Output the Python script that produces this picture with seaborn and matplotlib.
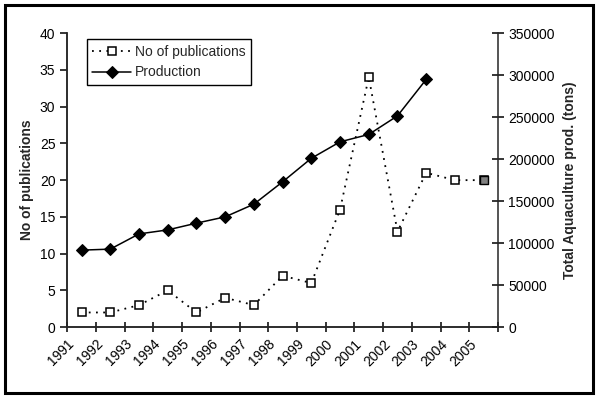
import numpy as np
import pandas as pd
import matplotlib.pyplot as plt
import seaborn as sns
from matplotlib.patches import Rectangle

years = [str(y) for y in range(1991, 2006)]
publications = [2, 2, 3, 5, 2, 4, 3, 7, 6, 16, 34, 13, 21, 20, 20]
production = [91700, 92900, 111000, 115800, 123800, 131300, 146400,
              173000, 201000, 220600, 229400, 251500, 294900]

sns.set_style('ticks')
plt.rcParams['font.family'] = ['Liberation Sans', 'DejaVu Sans']

pos = np.arange(len(years)) + 0.5
pub_df = pd.DataFrame({'x': pos, 'pubs': publications})
prod_df = pd.DataFrame({'x': pos[:len(production)], 'prod': production})

fig = plt.figure(figsize=(6, 3.99), dpi=100)
ax = fig.add_axes([0.112, 0.18, 0.718, 0.737])
ax2 = ax.twinx()

sns.lineplot(data=pub_df, x='x', y='pubs', ax=ax, color='black',
             linestyle=(0, (1, 3)), linewidth=1.3, marker='s', markersize=6,
             markerfacecolor='white', markeredgecolor='black', markeredgewidth=1.1,
             label='No of publications', legend=False)
sns.scatterplot(data=pub_df.tail(1), x='x', y='pubs', ax=ax, marker='s', s=30,
                color='#808080', edgecolor='black', linewidth=1, zorder=5, legend=False)
sns.lineplot(data=prod_df, x='x', y='prod', ax=ax2, color='black',
             linewidth=1.1, marker='D', markersize=6,
             markerfacecolor='black', markeredgecolor='black',
             label='Production', legend=False)

ax.set_xlim(0, len(years))
ax.set_ylim(0, 40)
ax2.set_ylim(0, 350000)
ax.set_yticks(range(0, 41, 5))
ax2.set_yticks(range(0, 350001, 50000))
ax.set_xticks(range(len(years) + 1))
ax.set_xticklabels(years + [''], rotation=45, ha='right', rotation_mode='anchor')

ax.set_xlabel('')
ax.set_ylabel('No of publications', fontsize=10, fontweight='bold')
ax2.set_ylabel('Total Aquaculture prod. (tons)', fontsize=10, fontweight='bold', labelpad=6)

for a in (ax, ax2):
    a.spines['top'].set_visible(False)
    for s in a.spines.values():
        s.set_linewidth(1.1)
    a.tick_params(labelsize=10, width=1.1, colors='black')
ax.spines['right'].set_visible(False)
ax.tick_params(axis='x', direction='inout', length=7)
ax.tick_params(axis='y', direction='out', length=5)
ax2.tick_params(axis='y', direction='inout', length=8)

h1, l1 = ax.get_legend_handles_labels()
h2, l2 = ax2.get_legend_handles_labels()
if ax.get_legend() is not None:
    ax.get_legend().remove()
leg = ax2.legend(h1[:1] + h2, l1[:1] + l2, loc='upper left',
                 bbox_to_anchor=(0.045, 0.98), fancybox=False, framealpha=1,
                 edgecolor='black', fontsize=10, borderaxespad=0,
                 handlelength=2.8, handletextpad=0.3, labelspacing=0.5)
leg.get_frame().set_linewidth(1)

fig.patches.append(Rectangle((0.009, 0.015), 0.98, 0.972, transform=fig.transFigure,
                             fill=False, edgecolor='black', linewidth=2.2))

fig.savefig('out.png', dpi=100)
